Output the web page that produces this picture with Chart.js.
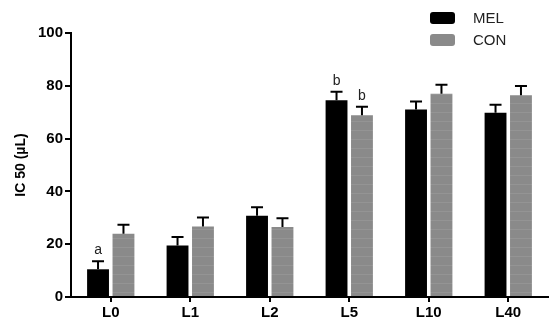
<!DOCTYPE html>
<html>
<head>
<meta charset="utf-8">
<script src="https://cdn.jsdelivr.net/npm/chart.js@4.4.1/dist/chart.umd.min.js"></script>
<style>
  html, body { margin: 0; padding: 0; background: #fff; }
  #wrap { width: 550px; height: 326px; }
</style>
</head>
<body>
<div id="wrap"><canvas id="chart"></canvas></div>
<script>
// === DATOS ===
const categorias = ["L0", "L1", "L2", "L5", "L10", "L40"];
const valoresMEL = [10.5, 19.5, 30.8, 74.5, 71, 69.8];
const erroresMEL = [3, 3.2, 3.2, 3.2, 3.1, 3];
const valoresCON = [24, 26.7, 26.5, 68.8, 77, 76.4];
const erroresCON = [3.4, 3.4, 3.3, 3.3, 3.4, 3.5];
const letrasMEL = ["a", "", "", "b", "", ""];
const letrasCON = ["", "", "", "b", "", ""];
const ticksY = [0, 20, 40, 60, 80, 100];

const errores = [erroresMEL, erroresCON];
const letras = [letrasMEL, letrasCON];
const FUENTE = "'Liberation Sans', Arial, sans-serif";

// === TEXTURA GRIS DE LAS BARRAS CON ===
function texturaGris() {
    const c = document.createElement("canvas");
    c.width = 24;
    c.height = 9;
    const g = c.getContext("2d");
    g.fillStyle = "#8a8a8a";
    g.fillRect(0, 0, 24, 9);
    g.fillStyle = "#949494";
    g.fillRect(0, 4, 24, 1);
    return g.createPattern(c, "repeat");
}

// === BARRAS DE ERROR, LETRAS Y LEYENDA ===
const extras = {
    id: "extras",
    afterDatasetsDraw(chart) {
        const ctx = chart.ctx;
        const y = chart.scales.y;
        ctx.save();
        chart.data.datasets.forEach((ds, d) => {
            const meta = chart.getDatasetMeta(d);
            meta.data.forEach((bar, i) => {
                const top = y.getPixelForValue(ds.data[i] + errores[d][i]);
                ctx.strokeStyle = "#000";
                ctx.lineWidth = 2;
                ctx.beginPath();
                ctx.moveTo(bar.x, bar.y);
                ctx.lineTo(bar.x, top);
                ctx.moveTo(bar.x - 6, top);
                ctx.lineTo(bar.x + 6, top);
                ctx.stroke();
                if (letras[d][i]) {
                    ctx.fillStyle = "#222";
                    ctx.font = "14px " + FUENTE;
                    ctx.textAlign = "center";
                    ctx.textBaseline = "bottom";
                    ctx.fillText(letras[d][i], bar.x, top - 4);
                }
            });
        });
        // leyenda
        const colores = ["#000000", "#8a8a8a"];
        chart.data.datasets.forEach((ds, d) => {
            const ly = 12 + d * 22;
            ctx.fillStyle = colores[d];
            ctx.beginPath();
            ctx.roundRect(430, ly, 25, 12, 3);
            ctx.fill();
            ctx.fillStyle = "#222";
            ctx.font = "15px " + FUENTE;
            ctx.textAlign = "left";
            ctx.textBaseline = "middle";
            ctx.fillText(ds.label, 473, ly + 6.5);
        });
        ctx.restore();
    }
};

new Chart(document.getElementById("chart"), {
    type: "bar",
    data: {
        labels: categorias,
        datasets: [
            { label: "MEL", data: valoresMEL, backgroundColor: "#000000" },
            { label: "CON", data: valoresCON, backgroundColor: texturaGris() }
        ]
    },
    options: {
        responsive: true,
        maintainAspectRatio: false,
        animation: false,
        layout: { padding: { top: 33, right: 2, left: 0, bottom: 0 } },
        datasets: { bar: { categoryPercentage: 0.64, barPercentage: 0.86 } },
        plugins: { legend: { display: false }, tooltip: { enabled: false } },
        scales: {
            x: {
                grid: { display: true, drawOnChartArea: false, offset: false, color: "#000", lineWidth: 2, tickLength: 5 },
                border: { color: "#000", width: 2 },
                ticks: { color: "#000", padding: 2, font: { family: FUENTE, size: 15, weight: "bold" } },
                afterFit(s) { s.height = 29; }
            },
            y: {
                min: 0,
                max: 100,
                afterBuildTicks(s) { s.ticks = ticksY.map(v => ({ value: v })); },
                grid: { display: true, drawOnChartArea: false, color: "#000", lineWidth: 2, tickLength: 6 },
                border: { color: "#000", width: 2 },
                ticks: { color: "#000", padding: 2, font: { family: FUENTE, size: 15, weight: "bold" } },
                title: {
                    display: true,
                    text: "IC 50 (µL)",
                    color: "#000",
                    padding: { top: 13, bottom: 0 },
                    font: { family: FUENTE, size: 14, weight: "bold" }
                },
                afterFit(s) { s.width = 71; }
            }
        }
    },
    plugins: [extras]
});
</script>
</body>
</html>
